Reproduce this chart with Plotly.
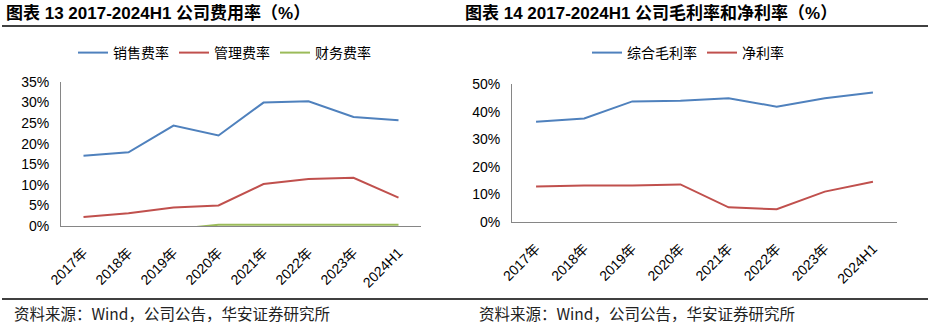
import plotly.graph_objects as go

W, H = 930, 324

categories = ["2017年", "2018年", "2019年", "2020年", "2021年", "2022年", "2023年", "2024H1"]

# Chart 13: expense ratios (%)
sales_rate = [17.1, 17.9, 24.4, 22.0, 30.0, 30.3, 26.5, 25.7]
admin_rate = [2.2, 3.1, 4.5, 5.0, 10.2, 11.4, 11.7, 6.9]
finance_rate = [-0.5, -0.6, -0.8, 0.3, 0.3, 0.3, 0.3, 0.3]

# Chart 14: gross margin and net margin (%)
gross_margin = [36.3, 37.5, 43.7, 43.9, 44.8, 41.8, 44.8, 46.9]
net_margin = [12.9, 13.2, 13.2, 13.6, 5.3, 4.6, 11.0, 14.6]

BLUE, RED, GREEN = "#4F81BD", "#C0504D", "#9BBB59"
AXIS = "#868686"
FONT = "Liberation Sans, Arial, Noto Sans CJK SC"
CJK = "Noto Sans CJK SC, Liberation Sans"


def px(x):
    return x / W


def py(y):
    return 1 - y / H


fig = go.Figure()
fig.add_trace(go.Scatter(x=categories, y=sales_rate, name="销售费率", mode="lines",
                         line=dict(color=BLUE, width=2), xaxis="x", yaxis="y", legend="legend"))
fig.add_trace(go.Scatter(x=categories, y=admin_rate, name="管理费率", mode="lines",
                         line=dict(color=RED, width=2), xaxis="x", yaxis="y", legend="legend"))
fig.add_trace(go.Scatter(x=categories, y=finance_rate, name="财务费率", mode="lines",
                         line=dict(color=GREEN, width=2), xaxis="x", yaxis="y", legend="legend"))
fig.add_trace(go.Scatter(x=categories, y=gross_margin, name="综合毛利率", mode="lines",
                         line=dict(color=BLUE, width=2), xaxis="x2", yaxis="y2", legend="legend2"))
fig.add_trace(go.Scatter(x=categories, y=net_margin, name="净利率", mode="lines",
                         line=dict(color=RED, width=2), xaxis="x2", yaxis="y2", legend="legend2"))

ncat = len(categories)
xaxis_common = dict(type="category", range=[-0.5, ncat - 0.5], showgrid=False, zeroline=False,
                    showline=True, linecolor=AXIS, linewidth=1, ticks="", tickangle=-45,
                    automargin=False, tickfont=dict(family=FONT, size=14, color="#000"),
                    ticklabelstandoff=12)
yaxis_common = dict(showgrid=False, zeroline=False, showline=True, linecolor=AXIS,
                    linewidth=1, ticks="", ticksuffix="%", automargin=False,
                    tickfont=dict(family=FONT, size=14, color="#000"), ticklabelstandoff=8)

legend_common = dict(orientation="h", xanchor="left", yanchor="middle",
                     font=dict(family=CJK, size=14, color="#000"), bgcolor="rgba(0,0,0,0)",
                     itemwidth=30, tracegroupgap=0)

fig.update_layout(
    width=W, height=H,
    margin=dict(l=0, r=0, t=0, b=0, pad=0, autoexpand=False),
    paper_bgcolor="white", plot_bgcolor="white",
    xaxis=dict(domain=[px(61), px(421)], anchor="y", **xaxis_common),
    yaxis=dict(domain=[py(226), py(82)], anchor="x", range=[0, 35], dtick=5, **yaxis_common),
    xaxis2=dict(domain=[px(512), px(897)], anchor="y2", **xaxis_common),
    yaxis2=dict(domain=[py(222), py(84)], anchor="x2", range=[0, 50], dtick=10, **yaxis_common),
    legend=dict(x=px(73), y=py(53), **legend_common),
    legend2=dict(x=px(587), y=py(53), **legend_common),
    showlegend=True,
)

# Titles
fig.add_annotation(text="<b>图表 13 2017-2024H1 公司费用率（%）</b>", x=px(4), y=py(13),
                   xref="paper", yref="paper", xanchor="left", yanchor="middle",
                   showarrow=False, font=dict(family=FONT, size=17, color="#000"))
fig.add_annotation(text="<b>图表 14 2017-2024H1 公司毛利率和净利率（%）</b>", x=px(463), y=py(13),
                   xref="paper", yref="paper", xanchor="left", yanchor="middle",
                   showarrow=False, font=dict(family=FONT, size=17, color="#000"))

# Sources
for x0 in (12, 477):
    fig.add_annotation(text="资料来源：Wind，公司公告，华安证券研究所", x=px(x0), y=py(313),
                       xref="paper", yref="paper", xanchor="left", yanchor="middle",
                       showarrow=False, font=dict(family=CJK, size=15.5, color="#222"))

# Rules
for yy in (26, 299):
    fig.add_shape(type="line", xref="paper", yref="paper", x0=px(2), x1=px(928),
                  y0=py(yy), y1=py(yy), line=dict(color="#000", width=1.5))

fig.write_html("out.html")
